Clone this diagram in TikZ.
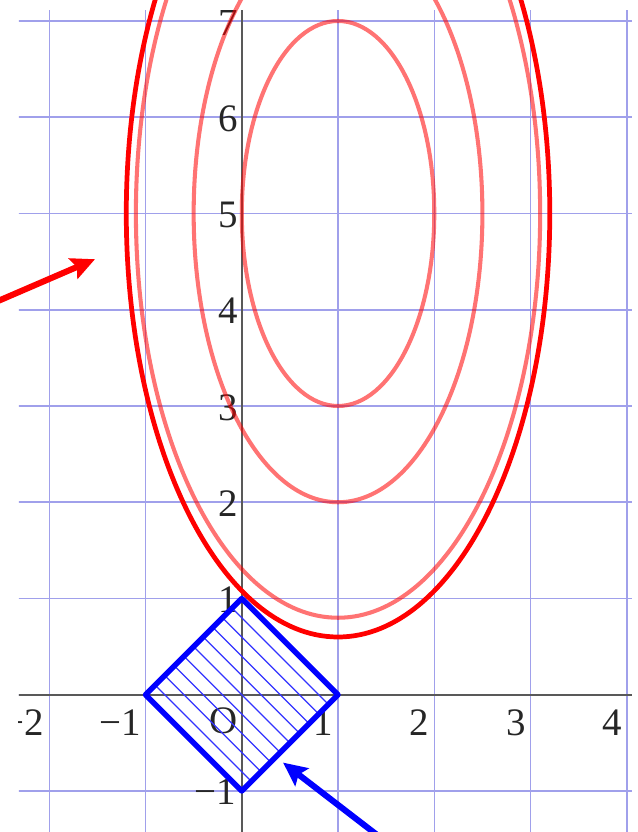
\documentclass[tikz,border=0pt]{standalone}
\usepackage{fontspec}
\setmainfont{Liberation Serif}
\usetikzlibrary{arrows.meta}
\definecolor{gridblue}{RGB}{160,160,235}
\begin{document}
\begin{tikzpicture}[x=1cm,y=1cm,
  gridline/.style={draw=gridblue, line width=0.45pt},
  axisline/.style={draw=black!65, line width=0.6pt},
  lev/.style={draw=red, opacity=0.55, line width=1.2pt},
  levmin/.style={draw=red, line width=1.4pt},
  sqbox/.style={draw=blue, line width=1.6pt, line join=round},
  hatchline/.style={draw=blue!80, line width=0.35pt},
  lab/.style={font=\fontsize{11.5}{13}\selectfont, text=black!85, inner sep=0pt},
  ptr/.style={line width=1.8pt, -{Stealth[length=7pt,width=6.5pt,inset=1.2pt]}}]
\useasboundingbox (-2.512,-1.426) rectangle (4.116,7.218);
\begin{scope}
  \clip (-2.315,-1.6) rectangle (4.054,7.114);
  \draw[gridline] (-3,-2) grid (5,8);
  \draw[axisline] (-2.5,0) -- (4.2,0);
  \draw[axisline] (0,-1.6) -- (0,7.3);
  % x labels
  \node[lab, anchor=north east] (xm2) at (-2.045,-0.15) {−2};
  \node[lab, anchor=north east] (xm1) at (-1.045,-0.15) {−1};
  \node[lab, anchor=north east] (xo) at (-0.04,-0.125) {O};
  \node[lab, anchor=north east] (x1) at (0.955,-0.15) {1};
  \node[lab, anchor=north east] (x2) at (1.955,-0.15) {2};
  \node[lab, anchor=north east] (x3) at (2.955,-0.15) {3};
  \node[lab, anchor=north east] (x4) at (3.955,-0.15) {4};
  % y labels
  \node[lab, anchor=east] (y1) at (-0.035,0.985) {1};
  \node[lab, anchor=east] (y2) at (-0.035,1.985) {2};
  \node[lab, anchor=east] (y3) at (-0.035,2.985) {3};
  \node[lab, anchor=east] (y4) at (-0.035,3.985) {4};
  \node[lab, anchor=east] (y5) at (-0.035,4.985) {5};
  \node[lab, anchor=east] (y6) at (-0.035,5.985) {6};
  \node[lab, anchor=east] (y7) at (-0.035,6.985) {7};
  \node[lab, anchor=east] (ym1) at (-0.05,-1.01) {−1};
\end{scope}
% level curves
\draw[lev] (1,5) ellipse [x radius=1, y radius=2];
\draw[lev] (1,5) ellipse [x radius=1.5, y radius=3];
\draw[lev] (1,5) ellipse [x radius=2.1, y radius=4.2];
\draw[levmin] (1,5) ellipse [x radius=2.2, y radius=4.4];
% feasible square
\foreach \c in {-0.8,-0.6,-0.4,-0.2,0,0.2,0.4,0.6,0.8}
  \draw[hatchline] ({(\c-1)/2},{(\c+1)/2}) -- ({(\c+1)/2},{(\c-1)/2});
\draw[sqbox] (1,0) -- (0,1) -- (-1,0) -- (0,-1) -- cycle;
% pointers
\coordinate (ra) at (-2.55,4.083);
\coordinate (rb) at (-1.525,4.525);
\coordinate (ba) at (1.462,-1.5);
\coordinate (bb) at (0.429,-0.705);
\draw[ptr, red] (ra) -- (rb);
\draw[ptr, blue] (ba) -- (bb);
\end{tikzpicture}
\end{document}
